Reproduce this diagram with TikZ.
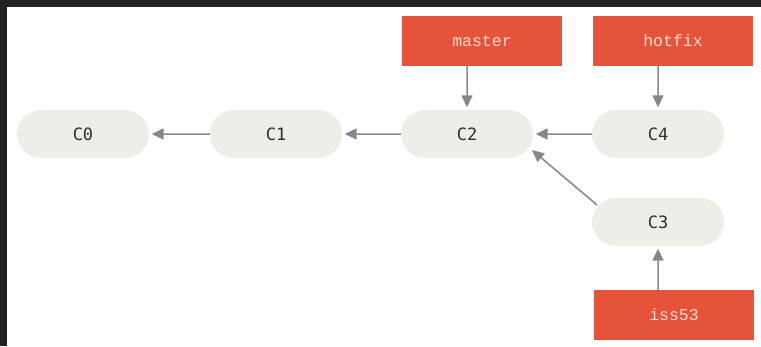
\documentclass[tikz,border=0pt]{standalone}
\usepackage{fontspec}
\newfontfamily\commitfont{DejaVu Sans Mono}
\newfontfamily\branchfont{Liberation Mono}
\usetikzlibrary{arrows.meta,shapes.misc}
\definecolor{framec}{HTML}{222222}
\definecolor{pillc}{HTML}{EEEDE8}
\definecolor{branchc}{HTML}{E5533A}
\definecolor{branchtextc}{HTML}{F9DCCF}
\definecolor{committextc}{HTML}{2F2F2F}
\definecolor{linkc}{HTML}{8A8682}
\begin{document}
\begin{tikzpicture}[x=1pt,y=-1pt,
  commit/.style={rounded rectangle, fill=pillc, minimum width=132pt,
    minimum height=48pt, inner sep=0pt, text=committextc,
    font=\commitfont\fontsize{17}{17}\selectfont},
  branchbox/.style={rectangle, fill=branchc, minimum width=160pt,
    minimum height=50pt, inner sep=0pt, text=branchtextc,
    font=\branchfont\fontsize{16.5}{16.5}\selectfont},
  link/.style={draw=linkc, line width=1.5pt,
    -{Triangle[length=12pt,width=11pt]}, shorten >=2.5pt}]

% canvas and dark frame
\useasboundingbox (0,0) rectangle (761,346);
\fill[white] (0,0) rectangle (761,346);
\fill[framec] (0,0) rectangle (761,7);
\fill[framec] (0,0) rectangle (7,346);

% commits
\node[commit] (c0) at (83,134) {C0};
\node[commit] (c1) at (276,134) {C1};
\node[commit] (c2) at (467,134) {C2};
\node[commit] (c4) at (658,134) {C4};
\node[commit] (c3) at (658,222) {C3};

% branch pointers
\node[branchbox] (master) at (482,41) {master};
\node[branchbox] (hotfix) at (673,41) {hotfix};
\node[branchbox] (iss53) at (674,315) {iss53};

% parent links
\draw[link] (c1) -- (c0);
\draw[link] (c2) -- (c1);
\draw[link] (c4) -- (c2);
\draw[link, shorten >=0pt]
  ([xshift=-61pt,yshift=17pt]c3.center) -- ([xshift=65pt,yshift=-16pt]c2.center);

% branch links
\draw[link] (master.south -| c2) -- (c2);
\draw[link] (hotfix.south -| c4) -- (c4);
\draw[link] (iss53.north -| c3) -- (c3);
\end{tikzpicture}
\end{document}
